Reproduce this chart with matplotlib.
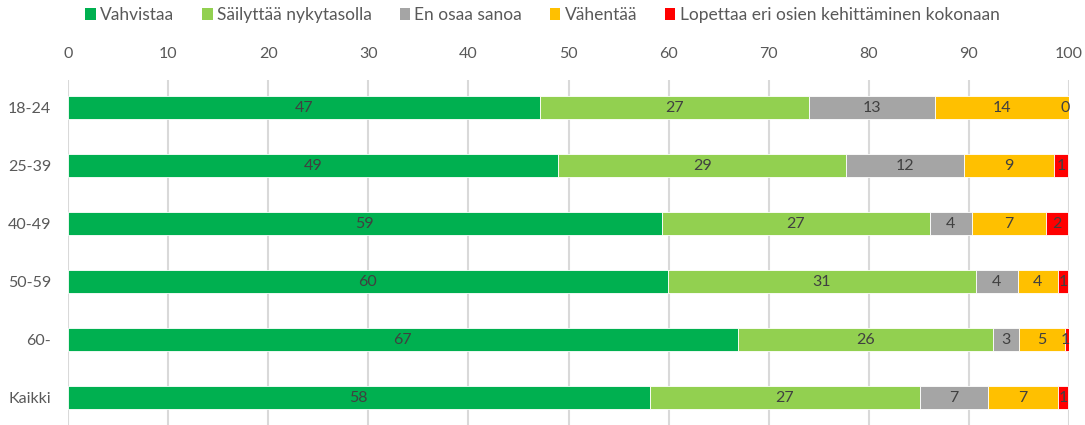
import matplotlib
matplotlib.use("Agg")
import matplotlib.pyplot as plt
from matplotlib.patches import Patch

categories = ["18-24", "25-39", "40-49", "50-59", "60-", "Kaikki"]
series_names = ["Vahvistaa", "Säilyttää nykytasolla", "En osaa sanoa", "Vähentää",
                "Lopettaa eri osien kehittäminen kokonaan"]
vahvistaa = [47.2, 49.0, 59.3, 59.9, 66.9, 58.1]
sailyttaa = [26.8, 28.7, 26.8, 30.8, 25.5, 27.0]
en_osaa = [12.6, 11.8, 4.2, 4.2, 2.6, 6.8]
vahentaa = [13.5, 9.0, 7.4, 4.0, 4.6, 7.0]
lopettaa = [0.0, 1.4, 2.2, 1.0, 0.6, 1.0]
xticks = [0, 10, 20, 30, 40, 50, 60, 70, 80, 90, 100]

colors = ["#00B050", "#92D050", "#A5A5A5", "#FFC000", "#FF0000"]
series = [vahvistaa, sailyttaa, en_osaa, vahentaa, lopettaa]

plt.rcParams['font.family'] = ['Lato', 'DejaVu Sans']

W, H = 1085, 425
fig = plt.figure(figsize=(W / 100, H / 100), dpi=100)
left, right, top, bottom = 68, 1069, 80, 425
ax = fig.add_axes([left / W, 1 - bottom / H, (right - left) / W, (bottom - top) / H])

ypos = list(range(len(categories)))
starts = [0.0] * len(categories)
for name, vals, col in zip(series_names, series, colors):
    ax.barh(ypos, vals, left=starts, height=0.4, color=col, edgecolor="white",
            linewidth=0.6, label=name, zorder=3)
    for i, v in enumerate(vals):
        cx = starts[i] + v / 2
        if name == series_names[-1]:
            cx = min(cx, 99.6)
        ax.text(cx, i, f"{v:.0f}", ha="center", va="center", fontsize=11.5,
                color="#404040", zorder=4)
    starts = [s + v for s, v in zip(starts, vals)]

ax.set_xlim(0, 100)
ax.set_ylim(5.47, -0.48)
ax.set_xticks(xticks)
ax.xaxis.tick_top()
ax.tick_params(axis="x", length=0, pad=14, labelsize=11.5, labelcolor="#595959")
ax.set_yticks(ypos)
ax.set_yticklabels(categories)
ax.tick_params(axis="y", length=0, pad=12, labelsize=11.5, labelcolor="#595959")
ax.grid(axis="x", color="#D9D9D9", linewidth=1.5, zorder=0)
for s in ax.spines.values():
    s.set_visible(False)

handles = [Patch(facecolor=c, label=n) for n, c in zip(series_names, colors)]
fig.legend(handles=handles, loc="center", bbox_to_anchor=(0.5, 1 - 15 / H), ncol=5,
           frameon=False, fontsize=12.5, handlelength=0.6, handleheight=0.7,
           handletextpad=0.25, columnspacing=1.6, labelcolor="#595959")

fig.savefig("out.png", dpi=100)
